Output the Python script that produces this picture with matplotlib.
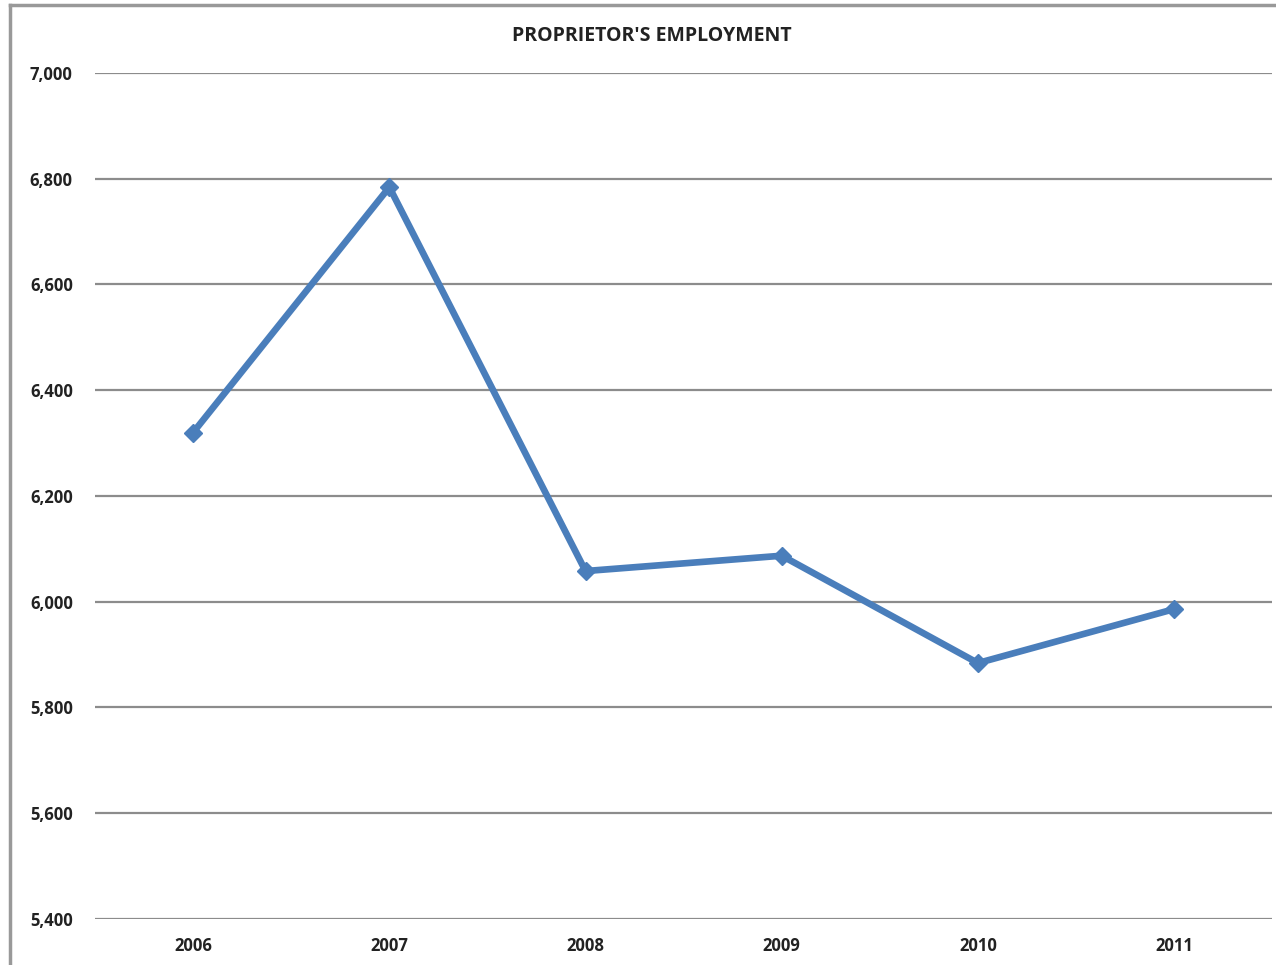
import matplotlib.pyplot as plt
from matplotlib.lines import Line2D
from matplotlib.ticker import FuncFormatter

years = ['2006', '2007', '2008', '2009', '2010', '2011']
employment = [6320, 6784, 6058, 6087, 5884, 5986]
yticks = [5400, 5600, 5800, 6000, 6200, 6400, 6600, 6800, 7000]

plt.rcParams['font.family'] = ['Open Sans', 'DejaVu Sans']

fig = plt.figure(figsize=(12.76, 9.65), dpi=100)
ax = fig.add_axes([0.0745, 0.0477, 0.9225, 0.8767])

x = range(len(years))
ax.plot(x, employment, color='#4a7ebb', lw=4.8, marker='D', markersize=9,
        solid_joinstyle='miter')

ax.set_xlim(-0.5, len(years) - 0.5)
ax.set_ylim(5400, 7000)
ax.set_yticks(yticks)
ax.yaxis.set_major_formatter(FuncFormatter(lambda v, p: f'{int(v):,}'))
ax.set_xticks(list(x))
ax.set_xticklabels(years)
ax.grid(axis='y', color='#8c8c8c', lw=1.6)
ax.set_axisbelow(True)
for s in ax.spines.values():
    s.set_visible(False)
ax.tick_params(length=0, labelsize=12, colors='#222222')
ax.tick_params(axis='y', pad=16)
ax.tick_params(axis='x', pad=13)
for lab in ax.get_xticklabels() + ax.get_yticklabels():
    lab.set_fontweight('bold')

fig.text(0.511, 0.963, "PROPRIETOR'S EMPLOYMENT", ha='center', va='center',
         fontsize=14, fontweight='bold', color='#222222')

# outer chart frame (cut off at right and bottom)
fig.add_artist(Line2D([10/1276, 10/1276], [0, 1 - 5/965], transform=fig.transFigure,
                      color='#999999', lw=2.5))
fig.add_artist(Line2D([10/1276, 1], [1 - 5/965, 1 - 5/965], transform=fig.transFigure,
                      color='#999999', lw=2.5))

fig.savefig('out.png', dpi=100)
